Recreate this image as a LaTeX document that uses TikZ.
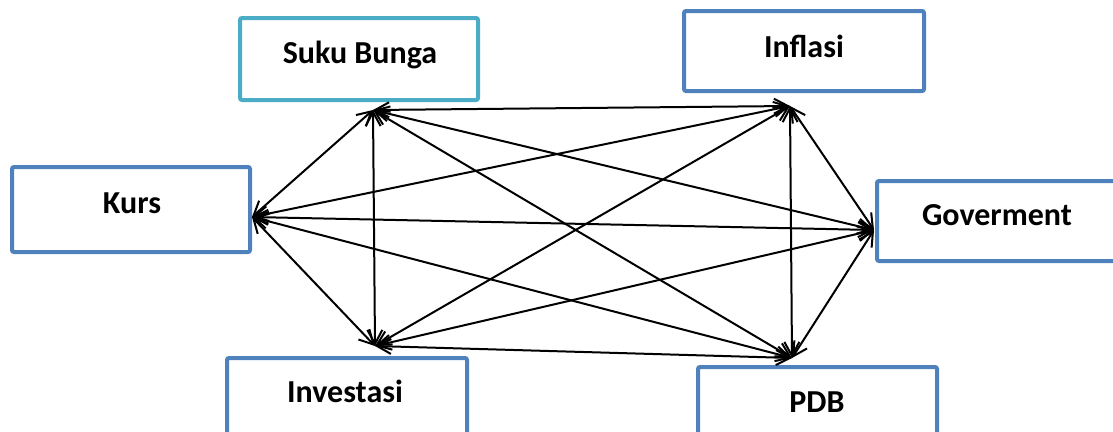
\documentclass[tikz,border=0pt]{standalone}
\usepackage{fontspec}
\setmainfont{Carlito}
\usetikzlibrary{arrows.meta}
\definecolor{boxblue}{HTML}{4F81BD}
\definecolor{boxteal}{HTML}{4BACC6}
\begin{document}
\begin{tikzpicture}[x=1pt,y=-1pt,
  box/.style={draw=boxblue,line width=4pt,rounded corners=2pt,fill=white,inner sep=0pt},
  lbl/.style={font=\fontsize{32}{38}\selectfont\bfseries,anchor=base,inner sep=0pt},
  link/.style={line width=2pt,{Straight Barb[length=14pt,width=15pt,line width=2pt]}-{Straight Barb[length=14pt,width=15pt,line width=2pt]}}]
\useasboundingbox (0,0) rectangle (1113,431);
\clip (0,0) rectangle (1113,431);
% boxes
\node[box,draw=boxteal,minimum width=238pt,minimum height=82pt] (suku) at (359,59) {};
\node[box,minimum width=240pt,minimum height=80pt] (infl) at (804,51) {};
\node[box,minimum width=238pt,minimum height=85pt] (kurs) at (131,209.5) {};
\node[box,minimum width=270pt,minimum height=80pt] (gov) at (1012,221) {};
\node[box,minimum width=240pt,minimum height=100pt] (inv) at (347,408) {};
\node[box,minimum width=239pt,minimum height=100pt] (pdb) at (817.5,417) {};
% labels
\node[lbl] (tsuku) at (360,63) {Suku Bunga};
\node[lbl] (tinfl) at (804,57) {Inflasi};
\node[lbl] (tkurs) at (132,213) {Kurs};
\node[lbl] (tgov) at (997,225) {Goverment};
\node[lbl] (tinv) at (345,402) {Investasi};
\node[lbl] (tpdb) at (817,412) {PDB};
% hubs
\coordinate (A) at (373,110);
\coordinate (B) at (790,106);
\coordinate (K) at (252,217);
\coordinate (G) at (874,230);
\coordinate (I) at (375,346);
\coordinate (P) at (792,358);
% connectors
\draw[link] (A) -- (B);
\draw[link] (A) -- (K);
\draw[link] (A) -- (G);
\draw[link] (A) -- (I);
\draw[link] (A) -- (P);
\draw[link] (B) -- (K);
\draw[link] (B) -- (G);
\draw[link] (B) -- (I);
\draw[link] (B) -- (P);
\draw[link] (K) -- (G);
\draw[link] (K) -- (I);
\draw[link] (K) -- (P);
\draw[link] (G) -- (I);
\draw[link] (G) -- (P);
\draw[link] (I) -- (P);
\end{tikzpicture}
\end{document}
